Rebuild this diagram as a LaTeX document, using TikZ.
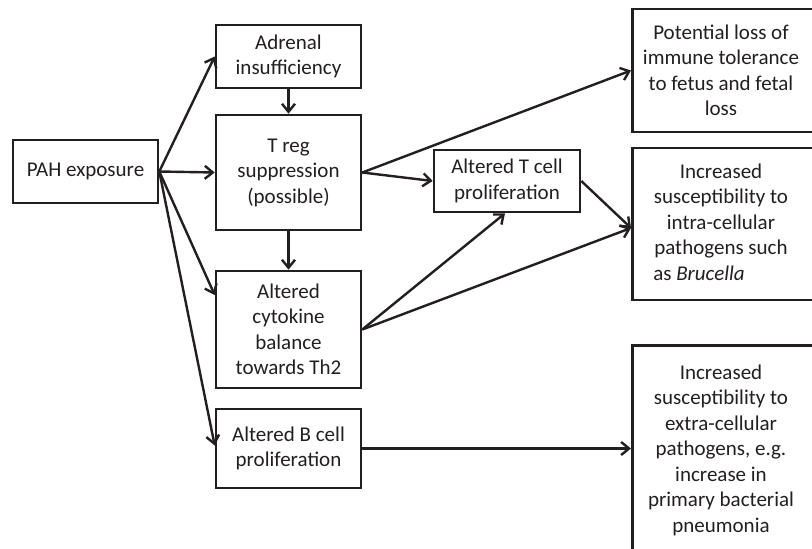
\documentclass[tikz,border=0pt]{standalone}
\usepackage{fontspec}
\setmainfont{Carlito}
\usetikzlibrary{arrows.meta,calc}
\definecolor{ink}{HTML}{231F20}
\tikzset{
  box/.style={draw=ink, line width=2.6pt, rectangle, inner sep=0pt, text=ink,
    font=\fontsize{21}{25.5}\selectfont, align=center},
  txt/.style={text=ink, font=\fontsize{21}{25.5}\selectfont, align=center, inner sep=0pt},
  arr/.style={draw=ink, line width=2.4pt, -{Straight Barb[length=8pt,width=13pt,line width=2.4pt]}}
}
\begin{document}
\begin{tikzpicture}[x=1pt,y=-1pt]
\useasboundingbox (0,0) rectangle (812,549);
\clip (0,0) rectangle (812,549);
\fill[white] (0,0) rectangle (812,549);
% left column
\node[box, minimum width=145pt, minimum height=63pt] (pah) at (85.5,171.5) {PAH exposure};
\node[box, minimum width=145pt, minimum height=63pt] (adr) at (288.5,56.5) {Adrenal\\insufficiency};
\node[box, minimum width=145pt, minimum height=115pt] (treg) at (288.5,172.5) {T reg\\suppression\\(possible)};
\node[box, minimum width=145pt, minimum height=117pt] (cyt) at (288.5,329.5) {Altered\\cytokine\\balance\\towards Th2};
\node[box, minimum width=145pt, minimum height=79pt] (bcell) at (288.5,448.5) {Altered B cell\\proliferation};
\node[box, minimum width=146pt, minimum height=62pt] (tcell) at (507,181) {Altered T cell\\proliferation};
% right column (boxes run past the right edge)
\node[box, minimum width=210pt, minimum height=123pt, anchor=west] (pot) at (631,70.5) {};
\node[txt] (pottxt) at (721,70.5) {Potential loss of\\immune tolerance\\to fetus and fetal\\loss};
\node[box, minimum width=210pt, minimum height=152pt, anchor=west] (intra) at (631,224) {};
\node[txt] (intratxt) at (721,222) {Increased\\susceptibility to\\intra-cellular\\pathogens such\\as \textit{Brucella}\hspace*{44pt}};
\node[box, minimum width=210pt, minimum height=240pt, anchor=north west] (extra) at (631,344) {};
\node[txt] (extratxt) at (721,450) {Increased\\susceptibility to\\extra-cellular\\pathogens, e.g.\\increase in\\primary bacterial\\pneumonia};
% connectors
\draw[arr] (pah.east) -- (adr.west);
\draw[arr] (pah.east) -- (treg.west);
\draw[arr] (pah.east) -- ([yshift=34.5pt]cyt.west);
\draw[arr] (pah.east) -- ([yshift=3pt]bcell.west);
\draw[arr] (adr.south) -- (treg.north);
\draw[arr] (treg.south) -- (cyt.north);
\draw[arr] (treg.east) -- (pot.west);
\draw[arr] (treg.east) -- (tcell.west);
\draw[arr] (tcell.east) -- ([yshift=-4pt]intra.west);
\draw[arr] (cyt.east) -- ([xshift=-2pt]tcell.south);
\draw[arr] (cyt.east) -- ([yshift=-4pt]intra.west);
\draw[arr] (bcell.east) -- (bcell.east -| extra.west);
\end{tikzpicture}
\end{document}
